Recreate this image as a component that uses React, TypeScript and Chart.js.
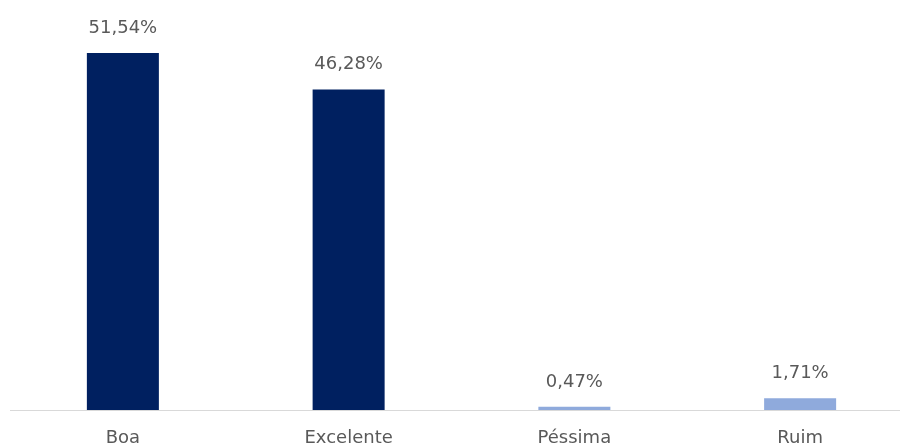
import React, { useEffect, useRef } from "react";
import { Chart, registerables } from "chart.js";

Chart.register(...registerables);

const categories = ["Boa", "Excelente", "Péssima", "Ruim"];
const values = [51.54, 46.28, 0.47, 1.71];
const barColors = ["#002060", "#002060", "#8FAADC", "#8FAADC"];
const yMax = 55;

const FONT = "'DejaVu Sans', sans-serif";
const TEXT_COLOR = "#595959";

const labelPlugin = {
  id: "valueLabels",
  afterDatasetsDraw(chart: any) {
    const ctx = chart.ctx;
    const meta = chart.getDatasetMeta(0);
    ctx.save();
    ctx.font = `18px ${FONT}`;
    ctx.fillStyle = TEXT_COLOR;
    ctx.textAlign = "center";
    ctx.textBaseline = "alphabetic";
    meta.data.forEach((bar: any, i: number) => {
      const v = values[i];
      const txt = v.toFixed(2).replace(".", ",") + "%";
      ctx.fillText(txt, bar.x, bar.y - 20);
    });
    ctx.restore();
  },
};

export default function App() {
  const ref = useRef<HTMLCanvasElement>(null);
  useEffect(() => {
    if (!ref.current) return;
    const chart = new Chart(ref.current, {
      type: "bar",
      data: {
        labels: categories,
        datasets: [
          {
            data: values,
            backgroundColor: barColors,
            borderWidth: 0,
            categoryPercentage: 1,
            barPercentage: 0.319,
          },
        ],
      },
      options: {
        animation: false,
        responsive: false,
        maintainAspectRatio: false,
        devicePixelRatio: 1,
        layout: { padding: { left: 10, right: 1, top: 29, bottom: 0 } },
        plugins: {
          legend: { display: false },
          tooltip: { enabled: false },
        },
        scales: {
          x: {
            grid: { display: false, drawTicks: false },
            border: { display: true, color: "#d9d9d9", width: 1 },
            ticks: {
              font: { family: FONT, size: 18 },
              color: TEXT_COLOR,
              padding: 18,
              maxRotation: 0,
              autoSkip: false,
            },
            afterFit(scale: any) {
              scale.height = 38;
            },
          },
          y: {
            display: false,
            min: 0,
            max: yMax,
          },
        },
      },
      plugins: [labelPlugin],
    });
    return () => chart.destroy();
  }, []);
  return (
    <div
      style={{
        position: "absolute",
        left: 0,
        top: 0,
        width: 900,
        height: 448,
        overflow: "hidden",
        background: "#ffffff",
      }}
    >
      <canvas ref={ref} width={914} height={448} style={{ width: 914, height: 448, display: "block" }} />
    </div>
  );
}
